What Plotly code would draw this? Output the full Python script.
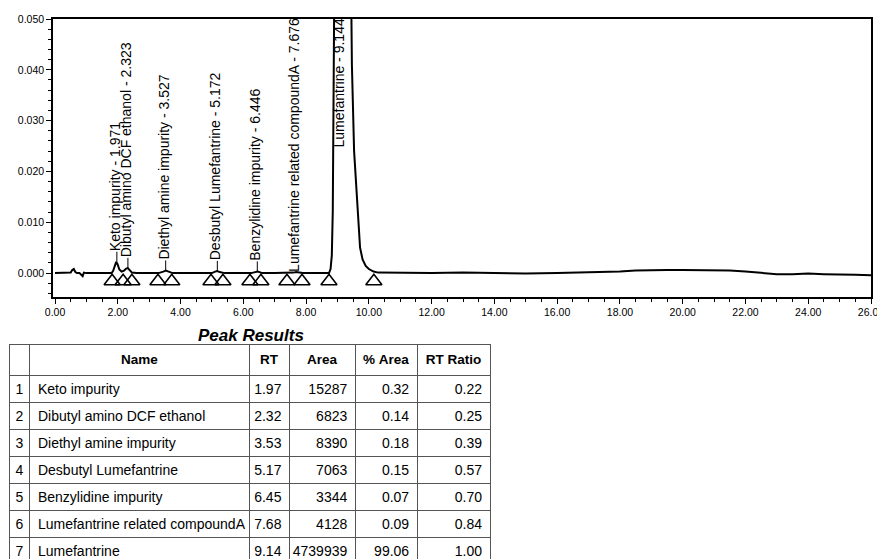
import plotly.graph_objects as go

# ---- chromatogram signal ----
time_min = [0.0, 0.3, 0.5, 0.55, 0.6, 0.65, 0.7, 0.78, 0.84, 0.88, 0.92, 1.0, 1.5, 1.8, 1.85, 1.9, 1.95,
            1.99, 2.05, 2.12, 2.2, 2.27, 2.32, 2.38, 2.45, 2.6, 3.0, 3.3, 3.45, 3.53, 3.62, 3.75, 4.5,
            5.0, 5.1, 5.17, 5.25, 5.4, 6.0, 6.25, 6.38, 6.45, 6.52, 6.6, 7.0, 7.4, 7.6, 7.68, 7.76,
            7.9, 8.5, 8.73, 8.78, 8.82, 8.85, 8.88, 8.92, 8.97, 9.03, 9.1, 9.16, 9.22, 9.3, 9.38,
            9.46, 9.53, 9.6, 9.66, 9.72, 9.8, 9.9, 10.0, 10.15, 10.3, 11.0, 12.0, 13.0, 14.0, 15.0,
            16.0, 17.0, 17.5, 18.0, 18.5, 19.0, 19.5, 20.0, 20.5, 21.0, 21.5, 22.0, 22.5, 23.0,
            23.5, 24.0, 24.5, 25.0, 25.5, 26.0]
absorbance = [0.0, 0.0, 0.0001, 0.0006, 0.0008, 0.0002, 0.0, 0.0, -0.0004, -0.0006, 0.0001, 0.0, 0.0,
              0.0, 0.0004, 0.0014, 0.0022, 0.0018, 0.0007, 0.0003, 0.0005, 0.0009, 0.001, 0.0006,
              0.0001, 0.0, 0.0, 0.0, 0.0003, 0.0005, 0.0003, 0.0, 0.0, 0.0, 0.0003, 0.0004, 0.0002,
              0.0, 0.0, 0.0, 0.0002, 0.0003, 0.0002, 0.0, 0.0, 0.0, 0.0001, 0.0002, 0.0001, 0.0,
              0.0, 0.0, 0.0008, 0.0035, 0.012, 0.035, 0.075, 0.13, 0.19, 0.235, 0.25, 0.235, 0.18,
              0.09, 0.041, 0.024, 0.016, 0.0095, 0.005, 0.0027, 0.0014, 0.0008, 0.0003, 0.0001,
              0.0, 0.0, 0.0001, 0.0, -0.0001, 0.0, 0.0001, 0.0002, 0.0003, 0.0005, 0.0006, 0.0006,
              0.0006, 0.0006, 0.0006, 0.0005, 0.0003, 0.0, -0.0002, -0.0002, -0.0001, -0.0002,
              -0.0002, -0.0003, -0.0004]

# ---- peaks ----
peak_names = ["Keto impurity", "Dibutyl amino DCF ethanol", "Diethyl amine impurity",
              "Desbutyl Lumefantrine", "Benzylidine impurity", "Lumefantrine related compoundA",
              "Lumefantrine"]
peak_rt = [1.971, 2.323, 3.527, 5.172, 6.446, 7.676, 9.144]
peak_top = [0.0022, 0.0010, 0.0005, 0.0004, 0.0003, None, None]
peak_area = [15287, 6823, 8390, 7063, 3344, 4128, 4739939]
peak_pct_area = [0.32, 0.14, 0.18, 0.15, 0.07, 0.09, 99.06]
peak_rt_ratio = [0.22, 0.25, 0.39, 0.57, 0.70, 0.84, 1.00]

# integration start/end markers
marker_times = [1.82, 2.17, 2.45, 3.28, 3.72, 4.97, 5.35, 6.21, 6.56, 7.39, 7.87, 8.73, 10.16]
marker_level = -0.0016

FONT = "Arial, Liberation Sans, sans-serif"

# page body has an 8px margin: the figure is drawn from (8, 8)
OFF = 8
W, H = 885 - OFF, 560 - OFF


def px_x(px):
    return (px - OFF) / W


def px_y(px):
    return 1 - (px - OFF) / H


fig = go.Figure()

fig.add_trace(go.Scatter(x=time_min, y=absorbance, mode="lines",
                         line=dict(color="black", width=2), hoverinfo="skip", showlegend=False))

fig.add_trace(go.Scatter(x=marker_times, y=[marker_level] * len(marker_times), mode="markers",
                         marker=dict(symbol="triangle-up-open", size=14, color="black",
                                     line=dict(width=1.6, color="black")),
                         hoverinfo="skip", showlegend=False, cliponaxis=False))

gap = 0.002
lx, ly = [], []
for rt, top in zip(peak_rt, peak_top):
    if top is not None:
        lx += [rt, rt, None]
        ly += [top, top + gap, None]
fig.add_trace(go.Scatter(x=lx, y=ly, mode="lines", line=dict(color="black", width=1),
                         hoverinfo="skip", showlegend=False))

for name, rt, top in zip(peak_names, peak_rt, peak_top):
    txt = f"{name} - {rt:.3f}"
    if top is not None:
        fig.add_annotation(x=rt, y=top + gap, xref="x", yref="y", text=txt, textangle=-90,
                           showarrow=False, xanchor="center", yanchor="bottom", xshift=-2,
                           borderpad=0, font=dict(family=FONT, size=14, color="black"))
    else:
        fig.add_annotation(x=rt, y=0.050, xref="x", yref="y", text=txt, textangle=-90,
                           showarrow=False, xanchor="center", yanchor="top", xshift=-2,
                           yshift=2, borderpad=0, font=dict(family=FONT, size=14, color="black"))

# ---- table ----
NB = "\u00a0"
table_header = ["", "<b>Name</b>", "<b>RT</b>", "<b>Area</b>",
                f"<b>%{NB}Area</b>", f"<b>RT{NB}Ratio</b>"]
row_numbers = [str(i + 1) for i in range(len(peak_names))]
fig.add_trace(go.Table(
    domain=dict(x=[px_x(9), px_x(490)], y=[0, px_y(344)]),
    columnwidth=[21, 220, 40, 66, 62, 73],
    header=dict(values=table_header, height=25, align="center",
                line=dict(color="#555555", width=1), fill=dict(color="white"),
                font=dict(family=FONT, size=13.5, color="black")),
    cells=dict(values=[row_numbers, [n.replace(" ", NB) for n in peak_names],
                       [f"{v:.2f}" for v in peak_rt],
                       [str(v) for v in peak_area], [f"{v:.2f}" for v in peak_pct_area],
                       [f"{v:.2f}" for v in peak_rt_ratio]],
               height=27, align=["center", "left", "right", "right", "right", "right"],
               line=dict(color="#555555", width=1), fill=dict(color="white"),
               font=dict(family=FONT, size=14, color="black")),
))

fig.add_annotation(x=px_x(251), y=px_y(335), xref="paper", yref="paper",
                   xanchor="center", yanchor="middle",
                   text="<b><i>Peak Results</i></b>", showarrow=False,
                   font=dict(family=FONT, size=17, color="black"))

axis_common = dict(showline=True, linecolor="black", linewidth=1.5, mirror=True,
                   showgrid=False, zeroline=False, ticks="outside", tickcolor="black",
                   ticklen=5, tickwidth=1, automargin=False,
                   tickfont=dict(family=FONT, size=10.5, color="black"))

fig.update_layout(
    width=W, height=H, autosize=False,
    margin=dict(l=0, r=0, t=0, b=0),
    paper_bgcolor="white", plot_bgcolor="white",
    showlegend=False,
    xaxis=dict(domain=[px_x(53), px_x(871)], range=[-0.064, 26.0], tick0=0, dtick=2,
               tickformat=".2f", ticklabeloverflow="allow",
               minor=dict(dtick=0.5, tick0=0, ticks="outside", ticklen=3, tickcolor="black"),
               **axis_common),
    yaxis=dict(domain=[px_y(297), px_y(19)], range=[-0.0047, 0.050], tick0=0,
               dtick=0.01, tickformat=".3f",
               minor=dict(dtick=0.002, tick0=0, ticks="outside", ticklen=3, tickcolor="black"),
               **axis_common),
)

fig.write_html("out.html")
